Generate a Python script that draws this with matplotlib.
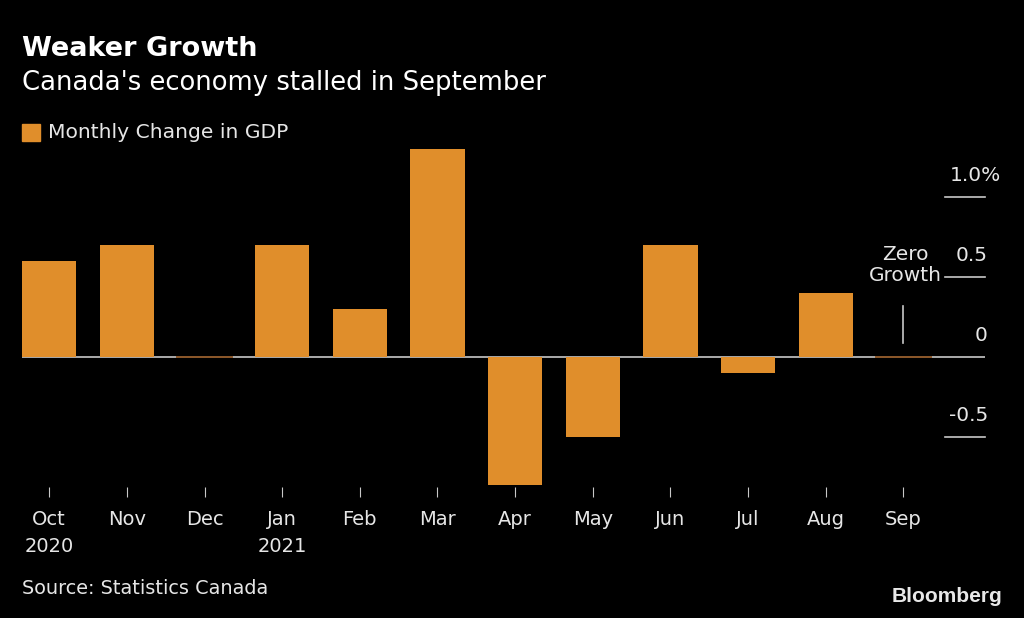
import matplotlib
matplotlib.use('Agg')
import matplotlib.pyplot as plt
import matplotlib.transforms as mtransforms

months = ['Oct\n2020', 'Nov', 'Dec', 'Jan\n2021', 'Feb', 'Mar', 'Apr', 'May', 'Jun', 'Jul', 'Aug', 'Sep']
gdp_change = [0.6, 0.7, 0.0, 0.7, 0.3, 1.3, -0.8, -0.5, 0.7, -0.1, 0.4, 0.0]
ytick_vals = [1.0, 0.5, 0, -0.5]
ytick_labels = ['1.0%', '0.5', '0', '-0.5']

plt.rcParams['font.family'] = ['DejaVu Sans']

orange = '#E08E2B'
bg = '#000000'
txt = '#e6e6e6'
rule = '#c8c8c8'

W, H = 1024, 618
fig = plt.figure(figsize=(W / 100, H / 100), dpi=100, facecolor=bg)
# axes placed in pixel terms
left, right, top, bottom = 22, 985, 140, 487
ax = fig.add_axes([left / W, 1 - bottom / H, (right - left) / W, (bottom - top) / H])
ax.set_facecolor(bg)

x = list(range(len(months)))
ax.bar(x, gdp_change, width=0.7, color=orange, zorder=2)
ax.axhline(0, color=rule, lw=1.2, zorder=1)
# months with no change still get a thin mark on the zero line
for xi, v in zip(x, gdp_change):
    if v == 0:
        ax.plot([xi - 0.35, xi + 0.35], [v, v], color='#8a5426', lw=1.4, zorder=3)

ax.set_xlim(-0.35, 12.05)
ax.set_ylim(-(bottom - 357) / 160, (357 - top) / 160)

for s in ax.spines.values():
    s.set_visible(False)
ax.set_yticks([])
ax.set_xticks(x)
ax.set_xticklabels(months, color=txt, fontsize=14, linespacing=1.55)
ax.tick_params(axis='x', length=7.5, width=0.8, color=rule, pad=9)

# right-hand value labels with short rules
trans = mtransforms.blended_transform_factory(fig.transFigure, ax.transData)
for v, lab in zip(ytick_vals, ytick_labels):
    if v != 0:
        ax.plot([11.53, 12.05], [v, v], color=rule, lw=1.2, clip_on=False)
    xr = (1001 if lab.endswith('%') else 988) / W
    ax.text(xr, v + 0.135, lab, transform=trans, ha='right', va='center',
            color=txt, fontsize=14.5)

# zero growth note
ax.plot([11, 11], [0.09, 0.32], color=rule, lw=1.2)
ax.text(11.02, 0.45, 'Zero\nGrowth', ha='center', va='bottom', color=txt,
        fontsize=14.5, linespacing=1.1)

# titles and legend
fig.text(22 / W, 1 - 49 / H, 'Weaker Growth', color='white', fontsize=19.5,
         fontweight='bold', va='center')
fig.text(22 / W, 1 - 83 / H, "Canada's economy stalled in September", color='white',
         fontsize=18.6, va='center')
fig.patches.append(plt.Rectangle((22 / W, 1 - 141 / H), 18 / W, 17 / H,
                                 transform=fig.transFigure, color=orange))
fig.text(48 / W, 1 - 132 / H, 'Monthly Change in GDP', color=txt, fontsize=14.6,
         va='center')
fig.text(22 / W, 1 - 588 / H, 'Source: Statistics Canada', color=txt, fontsize=13.9,
         va='center')
fig.text(1002 / W, 1 - 597 / H, 'Bloomberg', color='#e8e8e8', fontsize=15,
         fontweight='bold', ha='right', va='center',
         family=['Liberation Sans', 'DejaVu Sans'])

fig.savefig('out.png', dpi=100, facecolor=bg)
